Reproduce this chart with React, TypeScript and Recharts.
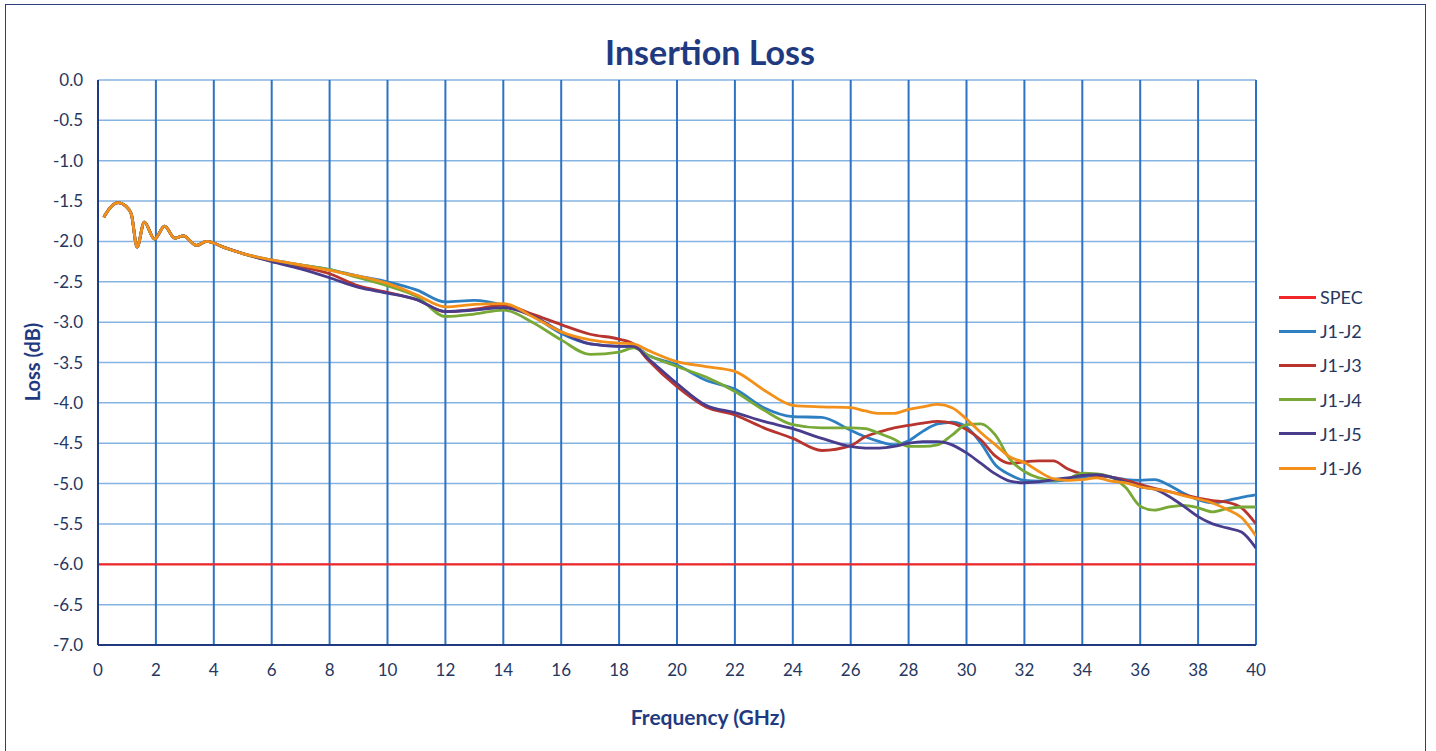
import React from 'react';
import { LineChart, Line, XAxis, YAxis, CartesianGrid } from 'recharts';

const FREQ = [0.2, 0.45, 0.7, 0.95, 1.15, 1.35, 1.6, 1.95, 2.3, 2.65, 2.95, 3.4, 3.75, 4.4, 5,
  6, 7, 8, 9, 10, 11, 12, 13, 14, 15, 16, 17, 18, 18.5, 19, 20, 21, 22, 23, 24, 25, 26,
  26.5, 27, 27.5, 28, 28.5, 29, 29.5, 30, 30.5, 31, 31.5, 32, 32.5, 33, 33.5, 34, 34.5, 35,
  35.5, 36, 36.5, 37, 37.5, 38, 38.5, 39, 39.5, 40];

const COMMON_LOW = [-1.70, -1.57, -1.52, -1.56, -1.66, -2.07, -1.76, -1.97, -1.81, -1.96, -1.93, -2.05, -2.00, -2.08, -2.15];

const J1_J2 = [...COMMON_LOW,
  -2.23, -2.29, -2.35, -2.43, -2.50, -2.60, -2.75, -2.73, -2.79, -2.92, -3.14, -3.27, -3.30, -3.30, -3.41, -3.53, -3.72, -3.83, -4.06, -4.17, -4.18, -4.34,
  -4.42, -4.48, -4.52, -4.47, -4.35, -4.26, -4.24, -4.30, -4.50, -4.77, -4.89, -4.96, -4.97, -4.97, -4.95, -4.92, -4.90, -4.92,
  -4.95, -4.96, -4.95, -5.02, -5.12, -5.20, -5.24, -5.21, -5.17, -5.14];

const J1_J3 = [...COMMON_LOW,
  -2.24, -2.31, -2.40, -2.55, -2.63, -2.72, -2.87, -2.84, -2.79, -2.90, -3.03, -3.15, -3.21, -3.27, -3.47, -3.80, -4.05, -4.15, -4.31, -4.44, -4.59, -4.53,
  -4.42, -4.36, -4.31, -4.28, -4.25, -4.23, -4.25, -4.33, -4.46, -4.66, -4.75, -4.73, -4.72, -4.72, -4.82, -4.88, -4.90, -4.92,
  -4.96, -5.01, -5.06, -5.10, -5.14, -5.18, -5.21, -5.23, -5.30, -5.50];

const J1_J4 = [...COMMON_LOW,
  -2.24, -2.29, -2.35, -2.45, -2.55, -2.68, -2.93, -2.90, -2.85, -3.00, -3.22, -3.40, -3.37, -3.32, -3.41, -3.55, -3.68, -3.86, -4.09, -4.27, -4.31, -4.31,
  -4.32, -4.38, -4.45, -4.54, -4.54, -4.52, -4.40, -4.27, -4.26, -4.40, -4.70, -4.85, -4.93, -4.96, -4.94, -4.87, -4.88, -4.92,
  -5.05, -5.28, -5.33, -5.29, -5.27, -5.30, -5.35, -5.31, -5.29, -5.29];

const J1_J5 = [...COMMON_LOW,
  -2.25, -2.34, -2.45, -2.57, -2.64, -2.72, -2.87, -2.85, -2.82, -2.92, -3.12, -3.27, -3.30, -3.30, -3.45, -3.76, -4.03, -4.12, -4.23, -4.32, -4.44, -4.54,
  -4.56, -4.56, -4.54, -4.50, -4.48, -4.48, -4.52, -4.62, -4.75, -4.88, -4.97, -4.99, -4.98, -4.95, -4.93, -4.90, -4.89, -4.92,
  -4.98, -5.04, -5.07, -5.16, -5.28, -5.41, -5.50, -5.55, -5.60, -5.80];

const J1_J6 = [...COMMON_LOW,
  -2.23, -2.29, -2.36, -2.43, -2.52, -2.66, -2.81, -2.78, -2.77, -2.93, -3.12, -3.22, -3.26, -3.27, -3.35, -3.49, -3.55, -3.61, -3.84, -4.03, -4.05, -4.06,
  -4.10, -4.13, -4.13, -4.08, -4.05, -4.02, -4.06, -4.20, -4.37, -4.52, -4.67, -4.74, -4.85, -4.94, -4.96, -4.95, -4.93, -4.97,
  -4.99, -5.04, -5.07, -5.10, -5.15, -5.19, -5.24, -5.32, -5.42, -5.65];

const SPEC_FREQ = [0, 40];
const SPEC_VALUES = [-6, -6];

const X_TICKS = [0, 2, 4, 6, 8, 10, 12, 14, 16, 18, 20, 22, 24, 26, 28, 30, 32, 34, 36, 38, 40];
const Y_TICKS = [0, -0.5, -1, -1.5, -2, -2.5, -3, -3.5, -4, -4.5, -5, -5.5, -6, -6.5, -7];

const SERIES = [
  { key: 'j2', name: 'J1-J2', color: '#2E7FC2', values: J1_J2 },
  { key: 'j3', name: 'J1-J3', color: '#B8352F', values: J1_J3 },
  { key: 'j4', name: 'J1-J4', color: '#78A836', values: J1_J4 },
  { key: 'j5', name: 'J1-J5', color: '#4A3C8C', values: J1_J5 },
  { key: 'j6', name: 'J1-J6', color: '#F39019', values: J1_J6 },
];
const SPEC_COLOR = '#F0282A';

const rows = FREQ.map((f, i) => {
  const r: Record<string, number> = { f };
  SERIES.forEach((s) => { r[s.key] = s.values[i]; });
  return r;
});
const specRows = SPEC_FREQ.map((f, i) => ({ f, spec: SPEC_VALUES[i] }));

const FONT = 'Lato, "Open Sans", sans-serif';
const TEXT = '#26375F';
const NAVY = '#1F3A80';

export default function App() {
  const legendItems = [{ name: 'SPEC', color: SPEC_COLOR }, ...SERIES.map((s) => ({ name: s.name, color: s.color }))];
  return (
    <div style={{ position: 'absolute', left: 0, top: 0, width: 1436, height: 751, background: '#fff', fontFamily: FONT, overflow: 'hidden' }}>
      <div style={{ position: 'absolute', left: 5, top: 4, width: 1421, height: 760, border: '1.5px solid #2B3F7E', boxSizing: 'border-box' }} />
      <div style={{ position: 'absolute', left: 0, width: 1420, top: 31, textAlign: 'center', fontSize: 34, fontWeight: 700, color: NAVY }}>
        Insertion Loss
      </div>
      <div style={{ position: 'absolute', left: 0, width: 1416, top: 704, textAlign: 'center', fontSize: 21, fontWeight: 700, color: NAVY }}>
        Frequency (GHz)
      </div>
      <div style={{ position: 'absolute', left: 32, top: 362, transform: 'translate(-50%, -50%) rotate(-90deg)', fontSize: 20, fontWeight: 700, color: NAVY, whiteSpace: 'nowrap' }}>
        Loss (dB)
      </div>
      <div style={{ position: 'absolute', left: 0, top: 0 }}>
        <LineChart width={1436} height={751} data={rows} margin={{ top: 80, right: 180, bottom: 76, left: 0 }}>
          <CartesianGrid horizontal={true} vertical={false} stroke="#86B4E2" strokeWidth={1.5} />
          <CartesianGrid horizontal={false} vertical={true} stroke="#2D72C4" strokeWidth={2} />
          <XAxis dataKey="f" type="number" domain={[0, 40]} ticks={X_TICKS} height={30} tickSize={0} tickMargin={19}
            axisLine={{ stroke: NAVY, strokeWidth: 2 }} tick={{ fill: TEXT, fontSize: 17, fontFamily: FONT }} allowDataOverflow />
          <YAxis type="number" domain={[-7, 0]} ticks={Y_TICKS} width={98} tickSize={0} tickMargin={15} interval={0}
            tickFormatter={(v: number) => v.toFixed(1)}
            axisLine={{ stroke: NAVY, strokeWidth: 2 }} tick={{ fill: TEXT, fontSize: 17, fontFamily: FONT }} />
          <Line data={specRows} dataKey="spec" name="SPEC" stroke={SPEC_COLOR} strokeWidth={2.2} dot={false} isAnimationActive={false} type="linear" />
          {SERIES.map((s) => (
            <Line key={s.key} dataKey={s.key} name={s.name} stroke={s.color} strokeWidth={2.8} dot={false} isAnimationActive={false} type="monotone" />
          ))}
        </LineChart>
      </div>
      <div style={{ position: 'absolute', left: 1279, top: 280 }}>
        {legendItems.map((it) => (
          <div key={it.name} style={{ display: 'flex', alignItems: 'center', height: 34.2 }}>
            <div style={{ width: 37, height: 3, background: it.color, marginRight: 4 }} />
            <span style={{ fontSize: 18, color: TEXT }}>{it.name}</span>
          </div>
        ))}
      </div>
    </div>
  );
}
